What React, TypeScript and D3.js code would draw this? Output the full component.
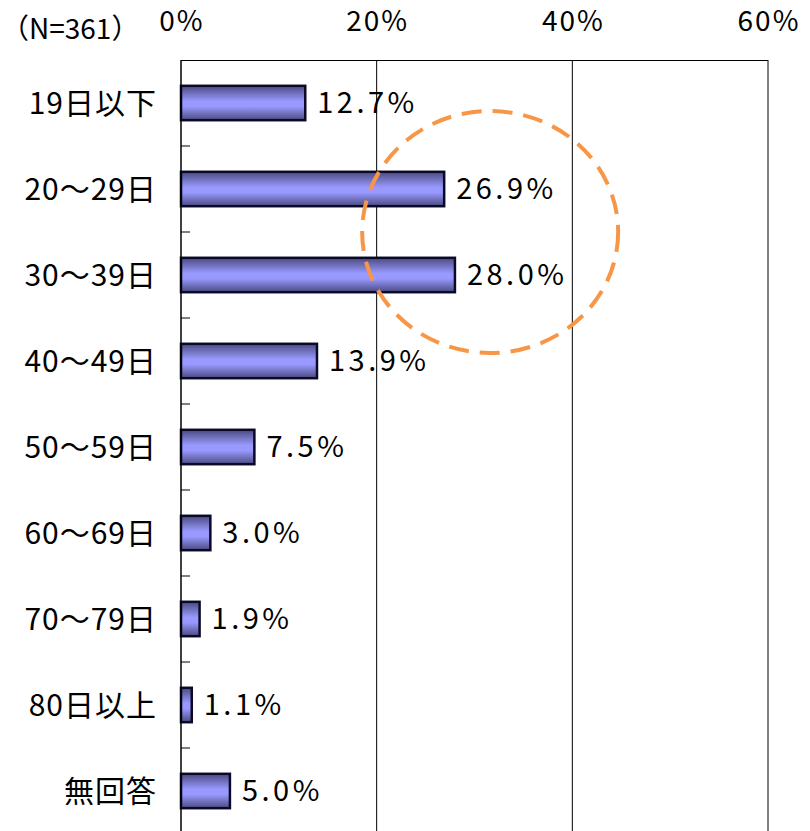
import React, { useEffect, useRef } from "react";
import * as d3 from "d3";

const categories = ["19日以下", "20～29日", "30～39日", "40～49日", "50～59日", "60～69日", "70～79日", "80日以上", "無回答"];
const values = [12.7, 26.9, 28.0, 13.9, 7.5, 3.0, 1.9, 1.1, 5.0];
const xTicks = [0, 20, 40, 60];
const sampleNote = "（N=361）";

const font = "'Noto Sans CJK JP', 'Noto Sans', sans-serif";

export default function App() {
  const ref = useRef<SVGSVGElement>(null);

  useEffect(() => {
    const svg = d3.select(ref.current);
    svg.selectAll("*").remove();

    const margin = { top: 60, left: 181 };
    const width = 768 - margin.left;
    const height = 774;

    const defs = svg.append("defs");
    const grad = defs.append("linearGradient")
      .attr("id", "barGrad")
      .attr("x1", 0).attr("y1", 0).attr("x2", 0).attr("y2", 1);
    grad.append("stop").attr("offset", "0%").attr("stop-color", "#4a4a80");
    grad.append("stop").attr("offset", "45%").attr("stop-color", "#9999ff");
    grad.append("stop").attr("offset", "60%").attr("stop-color", "#9999ff");
    grad.append("stop").attr("offset", "100%").attr("stop-color", "#4a4a80");

    const g = svg.append("g").attr("transform", `translate(${margin.left},${margin.top})`);

    const x = d3.scaleLinear().domain([0, 60]).range([0, width]);
    const y = d3.scaleBand().domain(categories).range([0, height]).paddingInner(0.6).paddingOuter(0.3);
    const yb = d3.scaleBand().domain(categories).range([0, height]);

    // gridlines
    g.selectAll(".grid")
      .data(xTicks.slice(1))
      .join("line")
      .attr("x1", d => x(d)).attr("x2", d => x(d))
      .attr("y1", 0).attr("y2", height)
      .attr("stroke", "#000").attr("stroke-width", 1);

    g.append("line")
      .attr("x1", 0).attr("x2", width).attr("y1", 0.5).attr("y2", 0.5)
      .attr("stroke", "#000");

    // top tick labels
    g.selectAll(".xt")
      .data(xTicks)
      .join("text")
      .attr("x", d => x(d) + 1)
      .attr("y", -29)
      .attr("text-anchor", "middle")
      .attr("font-family", font)
      .attr("font-size", 28)
      .attr("letter-spacing", 2)
      .attr("fill", "#000")
      .text(d => `${d}%`);

    svg.append("text")
      .attr("x", 1).attr("y", 39)
      .attr("font-family", font)
      .attr("font-size", 28)
      .text(sampleNote);

    // bars
    g.selectAll(".bar")
      .data(values)
      .join("rect")
      .attr("x", 0)
      .attr("y", (d, i) => y(categories[i])!)
      .attr("width", d => x(d))
      .attr("height", y.bandwidth())
      .attr("fill", "url(#barGrad)")
      .attr("stroke", "#0a0a28")
      .attr("stroke-width", 2.5);

    // value labels
    g.selectAll(".val")
      .data(values)
      .join("text")
      .attr("x", d => x(d) + 12)
      .attr("y", (d, i) => y(categories[i])! + y.bandwidth() / 2)
      .attr("dy", "0.36em")
      .attr("font-family", font)
      .attr("font-size", 29)
      .attr("letter-spacing", 3.5)
      .attr("fill", "#000")
      .text(d => `${d.toFixed(1)}%`);

    // left axis
    g.append("line")
      .attr("x1", 0).attr("x2", 0).attr("y1", 0).attr("y2", height)
      .attr("stroke", "#000").attr("stroke-width", 1.5);

    g.selectAll(".tk")
      .data(categories.slice(1))
      .join("line")
      .attr("x1", 0).attr("x2", 9)
      .attr("y1", d => yb(d)!).attr("y2", d => yb(d)!)
      .attr("stroke", "#000");

    g.selectAll(".cat")
      .data(categories)
      .join("text")
      .attr("x", -24)
      .attr("y", d => y(d)! + y.bandwidth() / 2)
      .attr("dy", "0.36em")
      .attr("text-anchor", "end")
      .attr("font-family", font)
      .attr("font-size", 30)
      .attr("letter-spacing", 1)
      .attr("fill", "#000")
      .text(d => d);

    // highlight circle around 20～39日
    const c1 = y(categories[1])! + y.bandwidth() / 2;
    const c2 = y(categories[2])! + y.bandwidth() / 2;
    g.append("ellipse")
      .attr("cx", x(31.6))
      .attr("cy", (c1 + c2) / 2)
      .attr("rx", 128)
      .attr("ry", 121)
      .attr("fill", "none")
      .attr("stroke", "#f79646")
      .attr("stroke-width", 4)
      .attr("stroke-dasharray", "20 11");
  }, []);

  return (
    <div style={{ position: "absolute", left: 0, top: 0 }}>
      <svg ref={ref} width={810} height={831} style={{ display: "block", background: "#fff" }} />
    </div>
  );
}
